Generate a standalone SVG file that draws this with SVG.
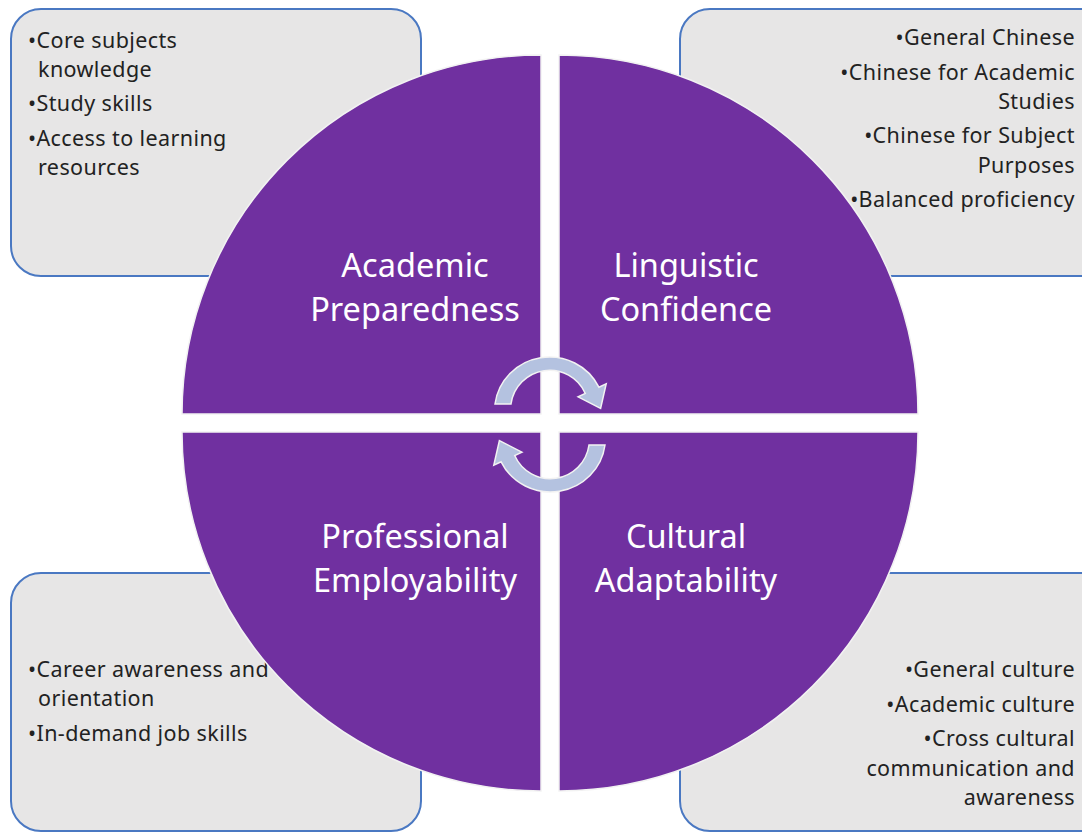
<svg xmlns="http://www.w3.org/2000/svg" width="1082" height="832" viewBox="0 0 1082 832">
<style>
.box{fill:#E7E6E6;stroke:#4A78C2;stroke-width:2}
.bt{font-family:"Noto Sans","Liberation Sans",sans-serif;font-size:21.5px;letter-spacing:0.4px;fill:#222}
.r{text-anchor:end}
.quad{fill:#7030A0;stroke:#F2F2F2;stroke-width:1.5}
.qt{font-family:"Noto Sans","Liberation Sans",sans-serif;font-size:32.5px;fill:#FFFFFF;text-anchor:middle}
.arr{fill:#B4C2E0;stroke:#F2F2F2;stroke-width:1.5}
</style>
<rect width="1082" height="832" fill="#FFFFFF"/>
<g id="box-academic">
<rect class="box" x="11" y="9" width="410" height="267" rx="30"/>
<text class="bt" x="28" y="48">•Core subjects</text>
<text class="bt" x="38" y="77">knowledge</text>
<text class="bt" x="28" y="111">•Study skills</text>
<text class="bt" x="28" y="146">•Access to learning</text>
<text class="bt" x="38" y="175">resources</text>
</g>
<g id="box-linguistic">
<rect class="box" x="680" y="9" width="430" height="267" rx="30"/>
<text class="bt r" x="1075" y="45">•General Chinese</text>
<text class="bt r" x="1075" y="80">•Chinese for Academic</text>
<text class="bt r" x="1075" y="109">Studies</text>
<text class="bt r" x="1075" y="143">•Chinese for Subject</text>
<text class="bt r" x="1075" y="173">Purposes</text>
<text class="bt r" x="1075" y="207">•Balanced proficiency</text>
</g>
<g id="box-professional">
<rect class="box" x="11" y="573" width="410" height="258" rx="30"/>
<text class="bt" x="28" y="677">•Career awareness and</text>
<text class="bt" x="38" y="706">orientation</text>
<text class="bt" x="28" y="741">•In-demand job skills</text>
</g>
<g id="box-cultural">
<rect class="box" x="680" y="573" width="430" height="258" rx="30"/>
<text class="bt r" x="1075" y="677">•General culture</text>
<text class="bt r" x="1075" y="712">•Academic culture</text>
<text class="bt r" x="1075" y="746">•Cross cultural</text>
<text class="bt r" x="1075" y="776">communication and</text>
<text class="bt r" x="1075" y="805">awareness</text>
</g>
<g id="quad-academic">
<path class="quad" d="M541 414 L182 414 A359 359 0 0 1 541 55 Z"/>
<text class="qt" x="415" y="277">Academic</text>
<text class="qt" x="415" y="321">Preparedness</text>
</g>
<g id="quad-linguistic">
<path class="quad" d="M559 414 L559 55 A359 359 0 0 1 918 414 Z"/>
<text class="qt" x="686" y="277">Linguistic</text>
<text class="qt" x="686" y="321">Confidence</text>
</g>
<g id="quad-professional">
<path class="quad" d="M541 432 L541 791 A359 359 0 0 1 182 432 Z"/>
<text class="qt" x="415" y="548">Professional</text>
<text class="qt" x="415" y="592">Employability</text>
</g>
<g id="quad-cultural">
<path class="quad" d="M559 432 L918 432 A359 359 0 0 1 559 791 Z"/>
<text class="qt" x="686" y="548">Cultural</text>
<text class="qt" x="686" y="592">Adaptability</text>
</g>
<g id="connectors">
<path id="arrow-top" class="arr" d="M495 404 A55 54 0 0 1 598.9 387.2 L606.2 383.8 L600.6 408.4 L578.1 396.9 L585.3 393.5 A39 39 0 0 0 511 404 Z"/>
<path id="arrow-bottom" class="arr" transform="rotate(180 550 424.5)" d="M495 404 A55 54 0 0 1 598.9 387.2 L606.2 383.8 L600.6 408.4 L578.1 396.9 L585.3 393.5 A39 39 0 0 0 511 404 Z"/>
</g>
</svg>
